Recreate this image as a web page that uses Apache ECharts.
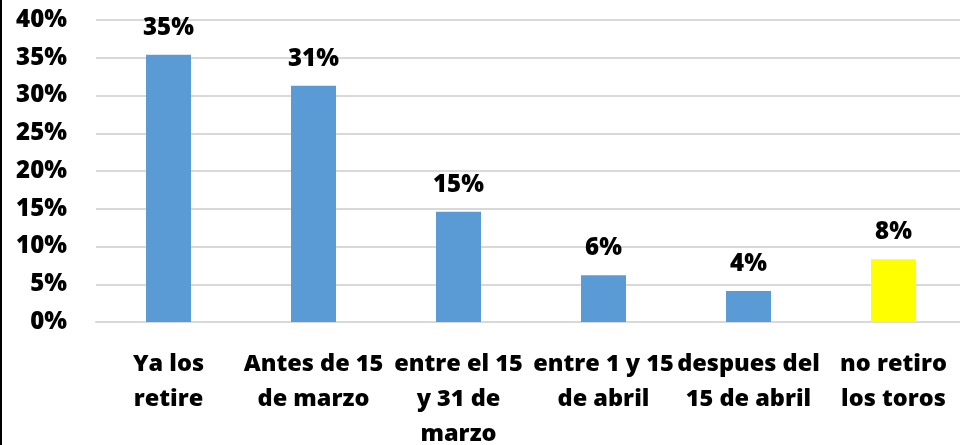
<!DOCTYPE html>
<html>
<head>
<meta charset="utf-8">
<script src="https://cdn.jsdelivr.net/npm/echarts@6/dist/echarts.min.js"></script>
<style>
  html, body { margin: 0; padding: 0; background: #fff; }
  #chart-container { width: 960px; height: 445px; }
</style>
</head>
<body>
<div id="chart-container"></div>
<script>
let categories = [
    'Ya los\nretire',
    'Antes de 15\nde marzo',
    'entre el 15\ny 31 de\nmarzo',
    'entre 1 y 15\nde abril',
    'despues del\n15 de abril',
    'no retiro\nlos toros'
];
let values = [35.4, 31.3, 14.6, 6.2, 4.1, 8.3];
let barColors = ['#5B9BD5', '#5B9BD5', '#5B9BD5', '#5B9BD5', '#5B9BD5', '#FFFF00'];

let dom = document.getElementById('chart-container');
let myChart = echarts.init(dom, null, { renderer: 'canvas' });
let font = 'Open Sans';

let option = {
    animation: false,
    grid: { left: 96, right: -6, top: 20, bottom: 123, outerBoundsMode: 'none' },
    graphic: [
        { type: 'rect', left: 0, top: 0, shape: { width: 2, height: 445 }, style: { fill: '#000' } }
    ],
    xAxis: {
        type: 'category',
        data: categories,
        axisTick: { show: false },
        axisLine: { lineStyle: { color: '#d9d9d9', width: 2 } },
        axisLabel: {
            interval: 0,
            margin: 25,
            fontFamily: font,
            fontWeight: 800,
            fontSize: 23.5,
            lineHeight: 35,
            color: '#000'
        }
    },
    yAxis: {
        type: 'value',
        min: 0,
        max: 40,
        interval: 5,
        axisLine: { show: false },
        axisTick: { show: false },
        splitLine: { lineStyle: { color: '#d9d9d9', width: 2 } },
        axisLabel: {
            margin: 29,
            fontFamily: font,
            fontWeight: 800,
            fontSize: 24,
            color: '#000',
            formatter: '{value}%'
        }
    },
    series: [
        {
            type: 'bar',
            barWidth: 45,
            data: values.map(function (v, i) {
                return { value: v, itemStyle: { color: barColors[i] } };
            }),
            label: {
                show: true,
                position: 'top',
                distance: 15,
                fontFamily: font,
                fontWeight: 800,
                fontSize: 24,
                color: '#000',
                formatter: function (p) { return Math.round(p.value) + '%'; }
            }
        }
    ]
};

myChart.setOption(option);
window.addEventListener('resize', myChart.resize);
</script>
</body>
</html>
